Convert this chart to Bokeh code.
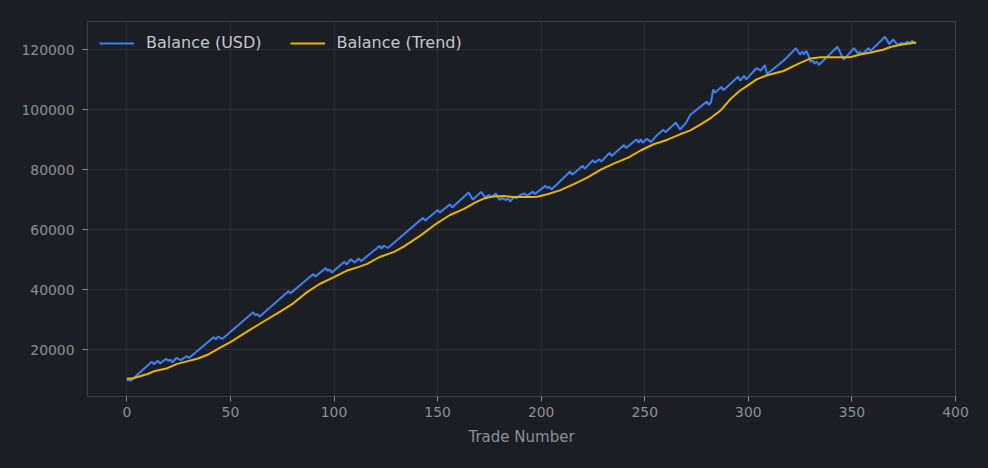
from bokeh.plotting import figure
from bokeh.models import (ColumnDataSource, Range1d, FixedTicker, Legend, LegendItem,
                          BasicTickFormatter)
from bokeh.embed import file_html
from bokeh.resources import INLINE

# balance curve at its turning points
trade_no = [0, 2, 12, 13, 15, 16, 19, 20, 21, 22, 24, 26, 29, 30, 42, 43, 44, 46,
            61, 62, 63, 64, 78, 79, 90, 91, 96, 97, 98, 99, 105, 106, 108, 110,
            112, 113, 122, 123, 124, 126, 143, 144, 150, 151, 156, 157, 165, 167,
            171, 173, 175, 176, 178, 180, 181, 183, 184, 185, 187, 188, 190, 192,
            193, 196, 197, 202, 203, 204, 205, 214, 215, 220, 221, 225, 226, 228,
            229, 233, 234, 240, 241, 246, 247, 248, 249, 251, 253, 256, 259, 260,
            265, 267, 270, 272, 280, 281, 282, 283, 284, 287, 288, 295, 296, 298,
            299, 304, 306, 308, 309, 317, 323, 325, 326, 327, 328, 329, 330, 331,
            332, 333, 334, 343, 346, 351, 353, 354, 355, 358, 359, 366, 368, 370,
            372, 374, 375, 377, 378, 379, 380, 381]
balance = [10000, 9700, 16000, 15200, 16300, 15400, 17000, 16300, 16700, 15800,
           17300, 16500, 17900, 17200, 24200, 23400, 24400, 23600, 32500, 31500,
           31900, 31000, 39500, 38800, 45200, 44400, 47200, 46300, 46700, 45700,
           49300, 48400, 50100, 49100, 50400, 49500, 54600, 53700, 54700, 53900,
           64000, 63000, 66600, 65700, 68500, 67400, 72400, 70100, 72600, 70800,
           71600, 70800, 72100, 69900, 70500, 69900, 70500, 69400, 71000, 70500,
           71600, 72100, 71300, 72700, 71900, 74600, 73900, 74300, 73400, 79400,
           78300, 81300, 80300, 83200, 82300, 83500, 82700, 85600, 84600, 88200,
           87200, 90100, 89000, 90100, 89000, 90300, 89200, 91600, 93300, 92500,
           95700, 93400, 95700, 98300, 102700, 101600, 102500, 106700, 105700,
           107600, 106500, 111000, 109700, 111300, 110100, 113900, 113000, 114900,
           111900, 116300, 120500, 118300, 119400, 118500, 119600, 118100, 115900,
           116500, 115400, 116100, 114900, 121000, 116700, 120500, 118700, 119300,
           118500, 120500, 119600, 124300, 121900, 123400, 121600, 122300, 121900,
           122700, 121900, 123000, 122300, 122100]

# smoothed trend
trend_no = [0, 3, 10, 13, 19, 24, 29, 34, 39, 45, 50, 58, 66, 74, 80, 87, 93, 100,
            106, 112, 116, 122, 129, 134, 142, 150, 156, 163, 168, 172, 177, 182,
            187, 195, 198, 203, 209, 216, 222, 229, 235, 242, 248, 254, 261, 267,
            272, 277, 282, 287, 291, 296, 298, 304, 309, 317, 324, 330, 335, 343,
            349, 354, 359, 365, 369, 375, 381]
trend = [10300, 10500, 11900, 12800, 13700, 15200, 16100, 17000, 18300, 20700,
         22500, 26000, 29400, 32700, 35300, 39200, 41900, 44200, 46300, 47600,
         48600, 50900, 52600, 54500, 58200, 62300, 64900, 67000, 69000, 70300,
         71100, 71200, 70900, 70900, 71000, 71800, 73100, 75300, 77300, 80100,
         82000, 84000, 86400, 88400, 90000, 91800, 93100, 95100, 97300, 100000,
         103300, 106400, 107300, 110100, 111500, 112900, 115300, 117100, 117500,
         117500, 117500, 118400, 119100, 120000, 121000, 121800, 122400]

x_ticks = [0, 50, 100, 150, 200, 250, 300, 350, 400]
y_ticks = [20000, 40000, 60000, 80000, 100000, 120000]

BG = "#1b1e24"
GRID = "#2c2f36"
FRAME = "#3d4047"
TICK_TXT = "#8c9099"
FONT = "DejaVu Sans"

p = figure(width=988, height=468, output_backend="svg", toolbar_location=None,
           x_range=Range1d(-19, 400), y_range=Range1d(4400, 129400),
           min_border_left=87, min_border_right=33, min_border_top=21,
           min_border_bottom=72)
p.background_fill_color = BG
p.border_fill_color = BG
p.outline_line_color = FRAME
p.outline_line_width = 1

src_bal = ColumnDataSource(dict(x=trade_no, y=balance))
src_tr = ColumnDataSource(dict(x=trend_no, y=trend))
r_bal = p.line("x", "y", source=src_bal, line_color="#3b82f6", line_width=2)
r_tr = p.line("x", "y", source=src_tr, line_color="#eab308", line_width=2)

p.xaxis.ticker = FixedTicker(ticks=x_ticks)
p.yaxis.ticker = FixedTicker(ticks=y_ticks)
p.yaxis.formatter = BasicTickFormatter(use_scientific=False)
p.xaxis.axis_label = "Trade Number"
for ax in (p.xaxis, p.yaxis):
    ax.axis_line_color = FRAME
    ax.major_tick_line_color = TICK_TXT
    ax.major_tick_out = 5
    ax.major_tick_in = 0
    ax.minor_tick_line_color = None
    ax.major_label_text_color = TICK_TXT
    ax.major_label_text_font = FONT
    ax.major_label_text_font_size = "13.9px"
p.xaxis.major_label_standoff = 5
p.yaxis.major_label_standoff = 8
p.xaxis.axis_label_text_color = TICK_TXT
p.xaxis.axis_label_text_font = FONT
p.xaxis.axis_label_text_font_size = "15px"
p.xaxis.axis_label_text_font_style = "normal"
p.xaxis.axis_label_standoff = 8

p.xgrid.grid_line_color = GRID
p.ygrid.grid_line_color = GRID

legend = Legend(items=[LegendItem(label="Balance (USD)", renderers=[r_bal]),
                       LegendItem(label="Balance (Trend)", renderers=[r_tr])],
                location="top_left", orientation="horizontal")
legend.background_fill_alpha = 0
legend.border_line_color = None
legend.label_text_color = "#c4c7cc"
legend.label_text_font = FONT
legend.label_text_font_size = "16px"
legend.glyph_width = 35
legend.glyph_height = 16
legend.label_height = 16
legend.label_standoff = 12
legend.spacing = 28
legend.margin = 12
legend.padding = 10
p.add_layout(legend)

html = file_html(p, INLINE)
html = html.replace("<body>", '<body style="background-color:%s;">' % BG)
open("out.html", "w").write(html)
